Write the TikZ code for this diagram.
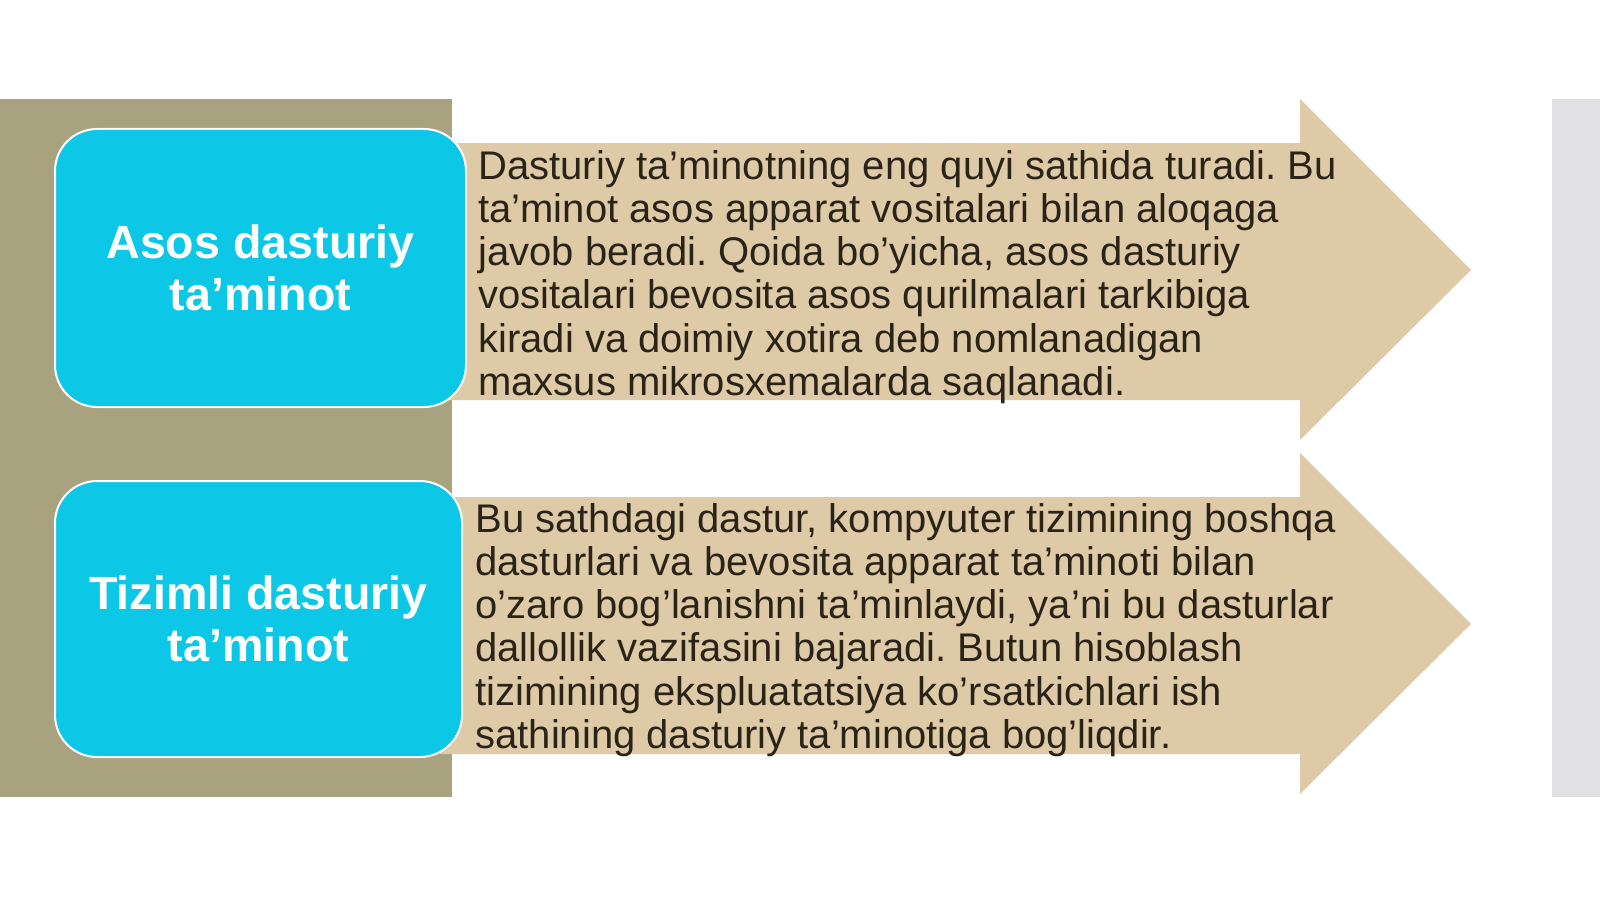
\documentclass[tikz,border=0pt]{standalone}
\usepackage{fontspec}
\setmainfont{Liberation Sans}
\frenchspacing
\definecolor{olive}{HTML}{A9A27F}
\definecolor{boxblue}{HTML}{0CC7E6}
\definecolor{arrowtan}{HTML}{DFCAA8}
\definecolor{sidegray}{HTML}{E1E1E3}
\definecolor{ink}{HTML}{2A2318}

\begin{document}
\begin{tikzpicture}[x=0.5pt,y=-0.5pt,
  titlebox/.style={fill=boxblue,draw=white,line width=1pt,rounded corners=21pt,
    text=white,align=center,font=\fontsize{23.3}{25.8}\selectfont\bfseries},
  bodytext/.style={anchor=base west,align=left,text=ink,inner sep=0pt,
    font=\fontsize{20}{21.65}\selectfont}]
\useasboundingbox (0,0) rectangle (1600,899);
\fill[olive] (0,99) rectangle (452,797);
\fill[sidegray] (1552,99) rectangle (1600,797);
\foreach \dy in {0,354} {%
  \fill[arrowtan] (440,143+\dy) -- (1300,143+\dy) -- (1300,99+\dy) -- (1471,270+\dy)
    -- (1300,440+\dy) -- (1300,400+\dy) -- (440,400+\dy) -- cycle;
}
\node[titlebox,minimum width=205.5pt,minimum height=139pt] (asos) at (260.5,268) {Asos dasturiy\\ta’minot};
\node[titlebox,minimum width=203.5pt,minimum height=138pt] (tizim) at (258.5,619) {Tizimli dasturiy\\ta’minot};
% base = last line
\node[bodytext] (asostext) at (478,395.5) {Dasturiy ta’minotning eng quyi sathida turadi. Bu\\
ta’minot asos apparat vositalari bilan aloqaga\\
javob beradi. Qoida bo’yicha, asos dasturiy\\
vositalari bevosita asos qurilmalari tarkibiga\\
kiradi va doimiy xotira deb nomlanadigan\\
maxsus mikrosxemalarda saqlanadi.};
\node[bodytext] (tizimtext) at (475,748.5) {Bu sathdagi dastur, kompyuter tizimining boshqa\\
dasturlari va bevosita apparat ta’minoti bilan\\
o’zaro bog’lanishni ta’minlaydi, ya’ni bu dasturlar\\
dallollik vazifasini bajaradi. Butun hisoblash\\
tizimining ekspluatatsiya ko’rsatkichlari ish\\
sathining dasturiy ta’minotiga bog’liqdir.};
\end{tikzpicture}
\end{document}
